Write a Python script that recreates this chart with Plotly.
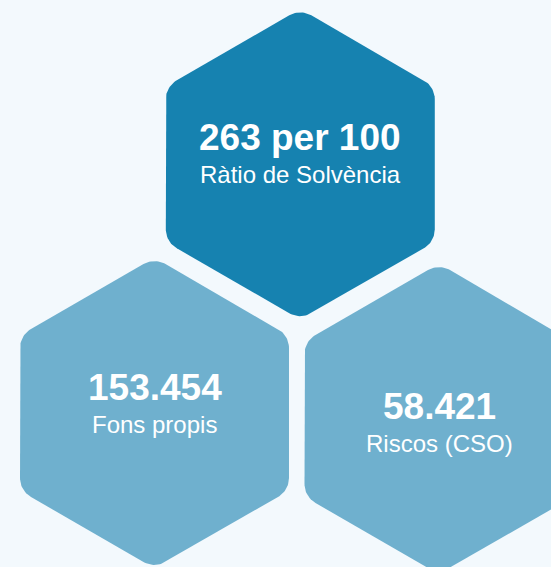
import numpy as np
import plotly.graph_objects as go

# ---- data ----
values = ["263 per 100", "153.454", "58.421"]
labels = ["Ràtio de Solvència", "Fons propis", "Riscos (CSO)"]

# ---- layout / style ----
W, H = 551, 567
BG = "#F3F9FD"
fills = ["#1682B0", "#6FB0CE", "#6FB0CE"]
centers = [(300.3, 164.3), (154.5, 413.0), (439.0, 419.0)]
title_y = [137.0, 387.2, 406.0]
label_y = [174.3, 424.0, 443.5]
R = 155.3      # circumradius
RC = 22.0      # corner radius


def rounded_hex(cx, cy, R, r, n_arc=16):
    d = r / np.sin(np.pi / 3)
    xs, ys = [], []
    for k in range(6):
        th = -np.pi / 2 + k * np.pi / 3  # pointy-top (screen coords, y down)
        ccx = cx + (R - d) * np.cos(th)
        ccy = cy + (R - d) * np.sin(th)
        for phi in np.linspace(-np.pi / 6, np.pi / 6, n_arc):
            xs.append(ccx + r * np.cos(th + phi))
            ys.append(ccy + r * np.sin(th + phi))
    xs.append(xs[0])
    ys.append(ys[0])
    return xs, ys


fig = go.Figure()
for (cx, cy), col in zip(centers, fills):
    xs, ys = rounded_hex(cx, cy, R, RC)
    fig.add_trace(go.Scatter(x=xs, y=ys, mode="lines", fill="toself",
                             fillcolor=col, line=dict(width=0, color=col),
                             hoverinfo="skip", showlegend=False))

FONT = "Liberation Sans, Arial, sans-serif"
for (cx, cy), v, lab, ty, ly in zip(centers, values, labels, title_y, label_y):
    fig.add_annotation(x=cx, y=ty, text=f"<b>{v}</b>", showarrow=False,
                       xanchor="center", yanchor="middle",
                       font=dict(family=FONT, size=37, color="white"))
    fig.add_annotation(x=cx, y=ly, text=lab, showarrow=False,
                       xanchor="center", yanchor="middle",
                       font=dict(family=FONT, size=24, color="white"))

fig.update_layout(
    width=W, height=H, margin=dict(l=0, r=0, t=0, b=0),
    paper_bgcolor=BG, plot_bgcolor=BG,
    xaxis=dict(range=[0, W], visible=False, fixedrange=True),
    yaxis=dict(range=[H, 0], visible=False, fixedrange=True),
)

fig.write_html(
    "out.html",
    config={"displayModeBar": False},
    post_script=("document.body.style.margin='0';"
                 "document.body.style.padding='0';"
                 "document.body.style.overflow='hidden';"
                 f"document.body.style.background='{BG}';"),
)
